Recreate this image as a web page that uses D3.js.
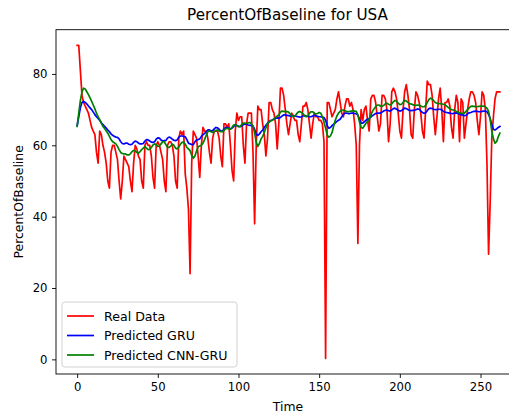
<!DOCTYPE html>
<html>
<head>
<meta charset="utf-8">
<script src="https://cdn.jsdelivr.net/npm/d3@7"></script>
<style>
  body { margin: 0; background: #fff; }
  svg { display: block; font-family: "DejaVu Sans", sans-serif; }
</style>
</head>
<body>
<svg id="chart" width="509" height="416"></svg>
<script>
// Values (index = time step)
const realData = [
  88, 88, 81, 74, 72, 71, 70, 69, 67, 65,
  64, 63, 58, 55, 64, 63, 60, 58, 55, 50,
  48, 58, 60, 60, 58, 56, 50, 45, 50, 57,
  56, 55, 54, 50, 47, 55, 60, 59, 57, 56,
  50, 48, 60, 61, 60, 60, 57, 51, 48, 60,
  61, 60, 58, 56, 50, 47, 60, 61, 61, 60,
  57, 50, 48, 62, 64, 63, 64, 52, 48, 42,
  24, 55, 64, 63, 62, 57, 51, 60, 65, 64,
  64, 62, 58, 55, 62, 64, 64, 64, 62, 57,
  54, 66, 66, 65, 66, 60, 53, 50, 64, 69,
  67, 68, 68, 60, 55, 66, 69, 69, 69, 58,
  38, 60, 71, 70, 70, 66, 63, 57, 62, 72,
  72, 70, 69, 66, 59, 66, 76, 76, 74, 70,
  66, 63, 66, 69, 68, 67, 67, 63, 61, 66,
  71, 71, 72, 70, 66, 62, 66, 69, 68, 68,
  67, 67, 66, 61, 0.3, 72, 72, 70, 68, 69,
  70, 73, 75, 72, 69, 68, 71, 73, 73, 71,
  72, 70, 66, 60, 32.5, 60, 70, 67, 70, 71,
  67, 64, 73, 74, 74, 72, 68, 64, 66, 74,
  74, 73, 70, 61, 66, 75, 76, 75, 73, 69,
  64, 62, 70, 75, 77, 74, 70, 63, 62, 70,
  75, 74, 72, 69, 64, 62, 70, 78, 77, 77,
  74, 68, 63, 68, 73, 76, 70, 61, 72, 72,
  73, 71, 65, 62, 70, 74, 72, 61, 73, 72,
  62, 66, 70, 73, 75, 75, 74, 72, 67, 63,
  68, 75, 74, 70, 55, 29.5, 44, 62, 68, 73,
  75, 75, 75
];

const gruPred = [
  65.5, 68, 70.5, 72, 72.3, 72, 71.6, 71, 70.5, 70,
  69.3, 68.6, 68, 67.5, 67, 66.3, 65.8, 65.3, 64.8, 64.3,
  63.8, 63.2, 62.8, 62.5, 62.3, 62.2, 61.8, 61, 60.5, 60.4,
  60.6, 60.6, 60.3, 60.2, 60.3, 60.8, 61.2, 61, 60.6, 60.4,
  60.4, 60.5, 61.2, 61.6, 61.5, 61.2, 60.9, 60.8, 61, 61.7,
  62.1, 62, 61.5, 61.2, 61.3, 61.3, 62, 62.3, 62.1, 61.7,
  61.4, 61.3, 61.5, 62.3, 62.6, 62.6, 62.5, 62.4, 61.6, 60.6,
  60.4, 60.2, 60.2, 61, 61.5, 61.6, 61.8, 62.5, 63, 63.3,
  63.8, 64.3, 64.3, 64, 64.1, 64.6, 65, 64.9, 64.5, 64,
  64, 64.5, 65, 65, 64.8, 64.6, 64.8, 65.3, 65.6, 65.6,
  65.3, 65.2, 65.4, 65.8, 66, 65.9, 65.7, 65.6, 65.6, 65.4,
  64.5, 63, 62.8, 63.2, 63.8, 64.3, 65, 65.6, 66.2, 66.6,
  67, 67.1, 67.4, 67.6, 67.7, 67.6, 67.8, 68.2, 68.5, 68.5,
  68.4, 68.3, 68.2, 68.2, 68.3, 68.2, 68.1, 68, 67.9, 68,
  68.2, 68.3, 68.2, 68.1, 68, 68, 68.2, 68.4, 68.3, 68.1,
  68, 68, 67.9, 67.8, 67, 65.5, 64.8, 65, 65.5, 65.9,
  66.3, 66.7, 67, 67.3, 68, 68.6, 69, 69, 68.9, 68.9,
  69, 69, 68.9, 68.8, 68.5, 67.3, 66.2, 66.2, 66.6, 67,
  67.3, 67.5, 67.9, 68.3, 68.6, 68.9, 69, 69, 69, 69.3,
  69.6, 69.8, 69.9, 69.7, 69.6, 69.9, 70.3, 70.4, 70.1, 69.8,
  69.6, 69.7, 70.1, 70.4, 70.3, 70, 69.8, 69.7, 69.8, 69.8,
  70, 70.2, 70.1, 69.6, 69.2, 69, 69.1, 69.7, 70.3, 70.4,
  70.3, 70.1, 70, 70, 70.1, 70.1, 69.9, 69.5, 69.3, 69.2,
  69.1, 69, 68.9, 68.9, 69, 69.1, 69, 68.7, 68.5, 68.5,
  68.3, 68.4, 68.8, 69.1, 69.2, 69.4, 69.5, 69.6, 69.5, 69.4,
  69.4, 69.5, 69.6, 69.6, 69.4, 68.7, 67.5, 65.8, 64.5, 64.3,
  64.6, 65, 65.3
];

const cnnGruPred = [
  65.3, 69, 72.5, 75, 76, 75.8, 75, 74.2, 73.3, 72.3,
  71.3, 70.2, 69, 68, 67.2, 66.2, 65.3, 64.7, 64.1, 63.4,
  62.5, 61.6, 61, 60.7, 60.4, 59.7, 58.8, 58, 57.7, 57.6,
  57.6, 57.3, 57.3, 57.6, 58.2, 58.6, 58.4, 58, 57.8, 58.2,
  58.8, 59.2, 59.6, 59.2, 58.8, 58.9, 59.4, 60.1, 60.4, 60.2,
  59.7, 59.8, 60.4, 61, 61, 60.2, 59.4, 59.4, 59.8, 60.3,
  60, 59.2, 59, 59.5, 60.3, 60.8, 60.9, 60.3, 59.4, 59,
  58.5, 57.2, 56.4, 57, 58.4, 59.6, 59.8, 60, 60.6, 61.6,
  62.8, 63.8, 64, 63.8, 63.6, 63.8, 64.2, 64.3, 64, 63.8,
  63.8, 64.2, 64.6, 64.8, 64.6, 64.5, 65, 65.7, 65.8, 65.5,
  65.2, 65.3, 65.8, 66.2, 66.2, 66.1, 66.3, 66.4, 66, 65.4,
  63.5, 60.8, 59.7, 60.5, 61.8, 62.5, 63.6, 64.9, 66, 66.5,
  66.8, 67, 67.4, 67.8, 68.2, 68.5, 69.3, 69.6, 69.5, 69.4,
  69.5, 69.3, 68.8, 68.3, 68, 68.2, 68.8, 69.3, 69.5, 69.2,
  68.8, 68.3, 68, 68.3, 69, 69.4, 69.4, 69, 68.8, 68.9,
  69.2, 69, 68, 66.5, 64.8, 62.8, 62.3, 62.6, 63.6, 65.4,
  67, 68.2, 69, 69.5, 69.9, 69.9, 69.7, 69.5, 69.4, 69.5,
  69.6, 69.7, 69.6, 69.5, 68.5, 66.5, 65, 64.8, 65.5, 66.2,
  66.6, 67.3, 68.4, 69.5, 70.2, 70.8, 71.3, 71.3, 71, 70.9,
  71.2, 71.6, 71.8, 71.5, 71.3, 71.6, 72.2, 72.6, 72.3, 71.8,
  71.4, 71.5, 72, 72.6, 72.4, 72, 71.6, 71.6, 71.4, 71.2,
  71.2, 71.3, 71.2, 71, 70.8, 70.8, 71.2, 72, 72.8, 73.2,
  73, 72.5, 72, 71.8, 71.7, 71.7, 71.6, 71.5, 71.3, 71,
  70.6, 70.3, 70, 69.9, 69.8, 69.5, 69.3, 69.1, 69, 68.9,
  69, 69.5, 70, 70.5, 70.9, 71, 70.9, 70.8, 70.8, 70.9,
  71, 71, 71, 70.8, 70.4, 69.5, 67.2, 64, 61.8, 60.6,
  61, 62.4, 63.4
];

const seriesNames = ['Real Data', 'Predicted GRU', 'Predicted CNN-GRU'];
const seriesColors = ['#ff0000', '#0000ff', '#008000'];
const xTicks = [0, 50, 100, 150, 200, 250];
const yTicks = [0, 20, 40, 60, 80];

const svg = d3.select('#chart');

// Plot box (right spine falls just outside the 509px window, as in the reference)
const plotLeft = 56, plotRight = 521, plotTop = 29.7, plotBottom = 374;

const x = d3.scaleLinear().domain([-13.1, 275.1]).range([plotLeft, plotRight]);
const y = d3.scaleLinear().domain([-4.1, 92.4]).range([plotBottom, plotTop]);

svg.append('rect').attr('width', 509).attr('height', 416).attr('fill', '#fff');

// Lines
const line = d3.line()
  .x((d, i) => x(i))
  .y(d => y(d));

const allSeries = [realData, gruPred, cnnGruPred];
svg.append('g')
  .selectAll('path')
  .data(allSeries)
  .join('path')
  .attr('d', d => line(d))
  .attr('fill', 'none')
  .attr('stroke', (d, i) => seriesColors[i])
  .attr('stroke-width', 1.7)
  .attr('stroke-linejoin', 'round')
  .attr('stroke-linecap', 'square');

// Spines
svg.append('rect')
  .attr('x', plotLeft).attr('y', plotTop)
  .attr('width', plotRight - plotLeft).attr('height', plotBottom - plotTop)
  .attr('fill', 'none')
  .attr('stroke', '#000')
  .attr('stroke-width', 0.9);

// Axes
const xAxis = svg.append('g')
  .attr('transform', `translate(0,${plotBottom})`)
  .call(d3.axisBottom(x).tickValues(xTicks).tickFormat(d3.format('d')).tickSize(4).tickPadding(4.5));

const yAxis = svg.append('g')
  .attr('transform', `translate(${plotLeft},0)`)
  .call(d3.axisLeft(y).tickValues(yTicks).tickFormat(d3.format('d')).tickSize(4).tickPadding(4.5));

[xAxis, yAxis].forEach(ax => {
  ax.select('.domain').remove();
  ax.selectAll('.tick line').attr('stroke', '#000').attr('stroke-width', 0.9);
  ax.selectAll('.tick text')
    .attr('fill', '#000')
    .attr('font-size', '11.7px')
    .attr('font-family', '"DejaVu Sans", sans-serif');
});

// Titles
svg.append('text')
  .attr('x', 287.5)
  .attr('y', 20)
  .attr('text-anchor', 'middle')
  .attr('font-size', '15.2px')
  .text('PercentOfBaseline for USA');

svg.append('text')
  .attr('x', 288)
  .attr('y', 411)
  .attr('text-anchor', 'middle')
  .attr('font-size', '12.4px')
  .text('Time');

svg.append('text')
  .attr('transform', `translate(23,${(plotTop + plotBottom) / 2}) rotate(-90)`)
  .attr('text-anchor', 'middle')
  .attr('font-size', '12.4px')
  .text('PercentOfBaseline');

// Legend
const legend = svg.append('g').attr('transform', 'translate(62,302)');

legend.append('rect')
  .attr('width', 175)
  .attr('height', 65)
  .attr('rx', 3)
  .attr('fill', '#fff')
  .attr('fill-opacity', 0.8)
  .attr('stroke', '#cccccc')
  .attr('stroke-width', 0.9);

const items = legend.selectAll('g.item')
  .data(seriesNames)
  .join('g')
  .attr('class', 'item')
  .attr('transform', (d, i) => `translate(0,${14 + i * 19.5})`);

items.append('line')
  .attr('x1', 5).attr('x2', 32)
  .attr('stroke', (d, i) => seriesColors[i])
  .attr('stroke-width', 1.7);

items.append('text')
  .attr('x', 42)
  .attr('y', 4.5)
  .attr('font-size', '12.6px')
  .text(d => d);
</script>
</body>
</html>
